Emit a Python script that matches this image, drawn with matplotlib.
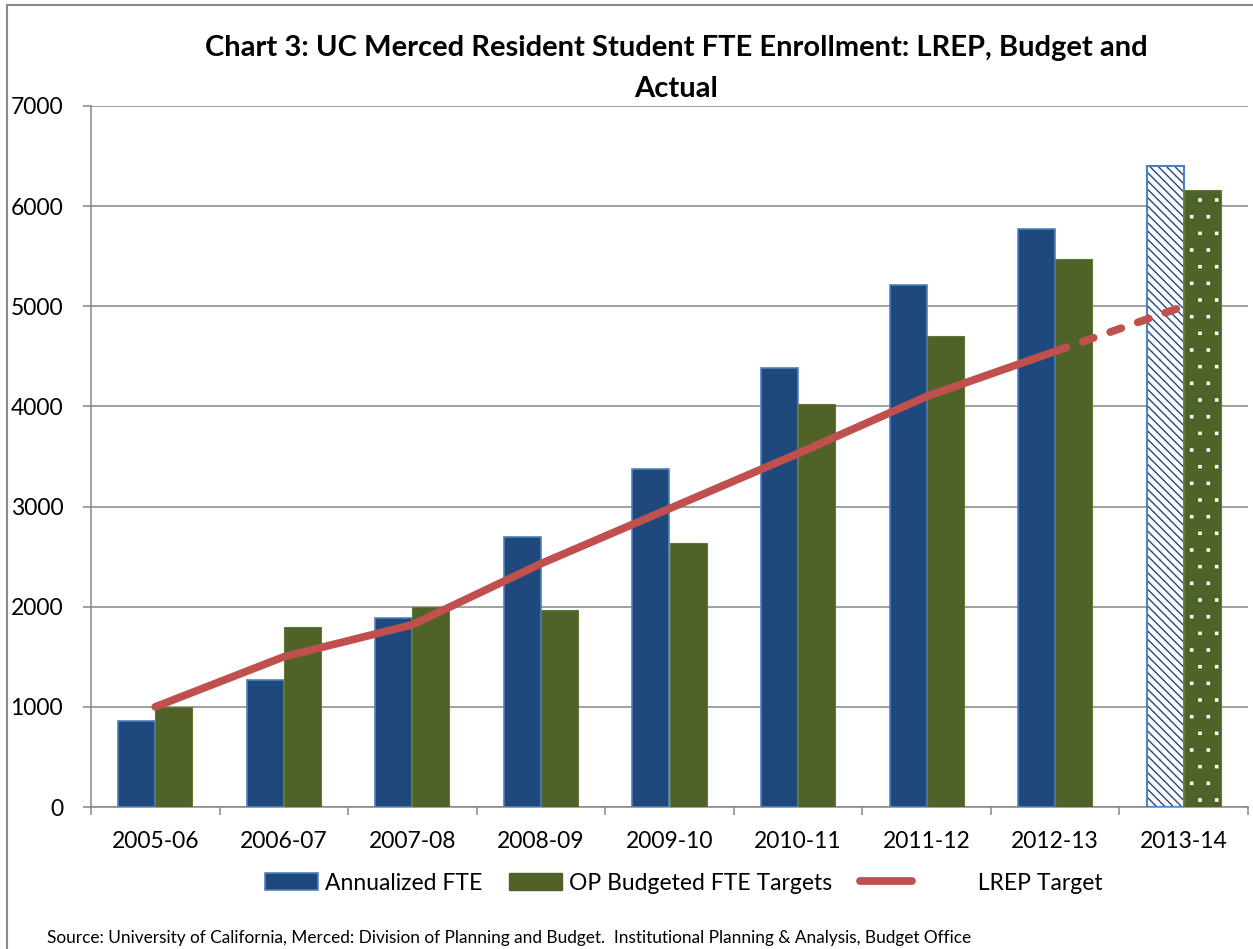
import matplotlib
matplotlib.use('Agg')
import matplotlib.pyplot as plt
import matplotlib.hatch as mhatch
from matplotlib.path import Path
from matplotlib.lines import Line2D
from matplotlib.patches import Patch
import numpy as np

# ---- data ----
years = ['2005-06', '2006-07', '2007-08', '2008-09', '2009-10',
         '2010-11', '2011-12', '2012-13', '2013-14']
annualized_fte = [860, 1270, 1890, 2700, 3380, 4380, 5210, 5770, 6400]
op_budgeted_fte = [1000, 1800, 2000, 1970, 2640, 4020, 4700, 5470, 6160]
lrep_target = [1000, 1500, 1820, 2430, 2980, 3530, 4100, 4550, 5000]
yticks = [0, 1000, 2000, 3000, 4000, 5000, 6000, 7000]

title = 'Chart 3: UC Merced Resident Student FTE Enrollment: LREP, Budget and\nActual'
source = ('Source: University of California, Merced: Division of Planning and Budget.  '
          'Institutional Planning & Analysis, Budget Office')
legend_labels = ['Annualized FTE', 'OP Budgeted FTE Targets', '          LREP Target']

# ---- style ----
BLUE = '#1F497D'
BLUE_EDGE = '#4F81BD'
GREEN = '#4F6228'
GREEN_EDGE = '#617a33'
RED = '#C0504D'
GRAY = '#868686'


# square white dots for the projected budget bar (replaces the '.' hatch shape)
class SquareDots(mhatch.Shapes):
    size = 0.065
    filled = True

    def __init__(self, hatch, density):
        self.num_rows = hatch.count('.') * density
        self.shape_vertices = np.array([[-1., -1.], [1., -1.], [1., 1.], [-1., 1.], [-1., -1.]])
        self.shape_codes = np.array([Path.MOVETO, Path.LINETO, Path.LINETO,
                                     Path.LINETO, Path.CLOSEPOLY], dtype=Path.code_type)
        super().__init__(hatch, density)


try:
    mhatch._hatch_types = [SquareDots if t is mhatch.SmallFilledCircles else t
                           for t in mhatch._hatch_types]
except Exception:
    pass

plt.rcParams['font.family'] = ['Lato', 'DejaVu Sans']
plt.rcParams['hatch.linewidth'] = 1.0

W, H = 1253, 949
fig = plt.figure(figsize=(W / 100, H / 100), dpi=100)
ax = fig.add_axes([91 / W, 1 - 807 / H, 1157 / W, 701 / H])

x = np.arange(len(years))
w = 0.288

# actual years
ax.bar(x[:-1] - w / 2, annualized_fte[:-1], w, color=BLUE, edgecolor=BLUE_EDGE,
       linewidth=1.2, zorder=3)
ax.bar(x[:-1] + w / 2, op_budgeted_fte[:-1], w, color=GREEN, edgecolor=GREEN_EDGE,
       linewidth=0.8, zorder=3)
# projected year (patterned)
ax.bar(x[-1] - w / 2, annualized_fte[-1], w, color='white', edgecolor=BLUE,
       hatch='\\\\\\\\', linewidth=0, zorder=3)
ax.bar(x[-1] - w / 2, annualized_fte[-1], w, fill=False, edgecolor=BLUE_EDGE,
       linewidth=1.5, zorder=4)
ax.bar(x[-1] + w / 2, op_budgeted_fte[-1], w, color=GREEN, edgecolor='white',
       hatch='.', linewidth=0, zorder=3)
ax.bar(x[-1] + w / 2, op_budgeted_fte[-1], w, fill=False, edgecolor=GREEN_EDGE,
       linewidth=0.8, zorder=4)

# LREP line: solid through 2012-13, dashed to 2013-14
ax.plot(x[:-1], lrep_target[:-1], color=RED, linewidth=5.6,
        solid_capstyle='round', solid_joinstyle='round', zorder=5)
ax.plot(x[-2:], lrep_target[-2:], color=RED, linewidth=5.6,
        dash_capstyle='round', dashes=(1.5, 2.25), zorder=5)

# axes
ax.set_xlim(-0.5, len(years) - 0.5)
ax.set_ylim(0, 7000)
ax.set_yticks(yticks)
ax.set_yticklabels([str(v) for v in yticks])
ax.set_xticks(x)
ax.set_xticklabels(years)
ax.set_xticks(np.arange(-0.5, len(years)), minor=True)
ax.tick_params(axis='x', which='major', length=0, pad=17, labelsize=16.5)
ax.tick_params(axis='x', which='minor', length=6, width=1.1, color=GRAY)
ax.tick_params(axis='y', length=6, width=1.1, color=GRAY, pad=14, labelsize=16.5)
ax.yaxis.grid(True, color=GRAY, linewidth=1.1)
ax.set_axisbelow(True)
for s in ['top', 'right']:
    ax.spines[s].set_visible(False)
for s in ['left', 'bottom']:
    ax.spines[s].set_color(GRAY)
    ax.spines[s].set_linewidth(1.1)

# title
fig.text(676 / W, 1 - 35 / H, title, ha='center', va='top', fontsize=21,
         fontweight='bold', linespacing=1.72)

# legend
handles = [Patch(facecolor=BLUE, edgecolor=BLUE_EDGE, linewidth=1.2),
           Patch(facecolor=GREEN, edgecolor=GREEN),
           Line2D([], [], color=RED, linewidth=5.6, solid_capstyle='round')]
fig.legend(handles, legend_labels, loc='center', bbox_to_anchor=(684 / W, 1 - 883 / H),
           ncol=3, frameon=False, fontsize=16.5, handlelength=2.3, handleheight=0.75,
           handletextpad=0.3, columnspacing=1.2)

# source
fig.text(47 / W, 1 - 943 / H, source, ha='left', va='baseline', fontsize=12.4)

# figure border (chart area frame)
fig.add_artist(Line2D([7 / W, 7 / W], [0, 1 - 5 / H], transform=fig.transFigure,
                      color='#898989', linewidth=1.5))
fig.add_artist(Line2D([7 / W, 1], [1 - 5 / H, 1 - 5 / H], transform=fig.transFigure,
                      color='#898989', linewidth=1.5))

fig.savefig('out.png', dpi=100)
